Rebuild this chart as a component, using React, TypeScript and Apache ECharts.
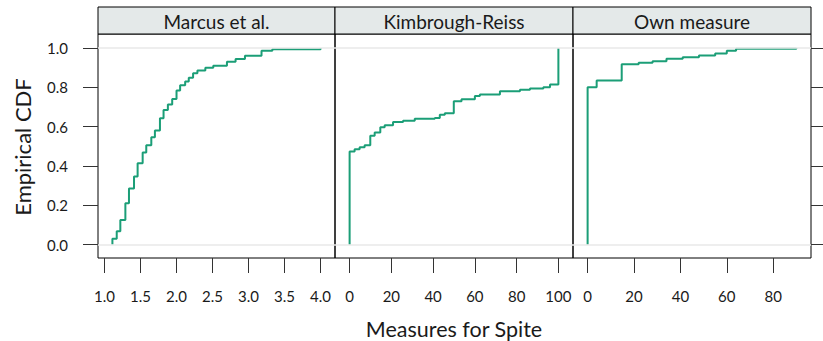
import React, { useEffect, useRef } from 'react';
import * as echarts from 'echarts';

// Empirical CDF step points
const marcusX = [1.11, 1.17, 1.22, 1.29, 1.34, 1.41, 1.46, 1.53, 1.58, 1.65, 1.70, 1.77, 1.82, 1.88, 1.94, 2.0, 2.05, 2.12, 2.17, 2.23, 2.29, 2.40, 2.51, 2.70, 2.82, 2.95, 3.18, 3.33, 4.0];
const marcusF = [0.03, 0.068, 0.125, 0.21, 0.285, 0.346, 0.414, 0.468, 0.505, 0.546, 0.58, 0.643, 0.685, 0.712, 0.74, 0.784, 0.81, 0.83, 0.848, 0.872, 0.886, 0.9, 0.91, 0.93, 0.944, 0.96, 0.986, 0.993, 1.0];

const kimX = [0, 2.4, 4.8, 7.2, 9.9, 12, 14.7, 16.8, 20.8, 25.6, 31.2, 40.8, 43.2, 45.6, 49.9, 53.6, 60, 62.4, 72, 81.6, 86.4, 92.8, 96, 100];
const kimF = [0.473, 0.485, 0.495, 0.505, 0.553, 0.57, 0.597, 0.607, 0.624, 0.63, 0.64, 0.644, 0.661, 0.668, 0.729, 0.739, 0.756, 0.763, 0.78, 0.787, 0.794, 0.8, 0.814, 1.0];

const ownX = [0, 3.9, 14.7, 22, 28, 34, 41, 48, 55, 60, 64, 90];
const ownF = [0.8, 0.834, 0.917, 0.925, 0.933, 0.945, 0.953, 0.962, 0.972, 0.986, 0.996, 1.0];

const panelTitles = ['Marcus et al.', 'Kimbrough-Reiss', 'Own measure'];
const marcusTicks = [1.0, 1.5, 2.0, 2.5, 3.0, 3.5, 4.0];
const kimTicks = [0, 20, 40, 60, 80, 100];
const ownTicks = [0, 20, 40, 60, 80];
const yTicks = [0, 0.2, 0.4, 0.6, 0.8, 1.0];
const refLines = [0, 1];

const yLabel = 'Empirical CDF';
const xLabel = 'Measures for Spite';

const FONT = 'Lato';
const GREEN = '#1b9e77';

export default function App() {
  const ref = useRef<HTMLDivElement>(null);
  useEffect(() => {
    const chart = echarts.init(ref.current!, null, { renderer: 'svg' });

    const panels = [
      { xs: marcusX, fs: marcusF, min: 0.91, max: 4.2, ticks: marcusTicks, fmt: (v: number) => v.toFixed(1) },
      { xs: kimX, fs: kimF, min: -7, max: 107, ticks: kimTicks, fmt: (v: number) => String(v) },
      { xs: ownX, fs: ownF, min: -6.3, max: 96.3, ticks: ownTicks, fmt: (v: number) => String(v) },
    ];
    const lefts = [98, 335, 573];
    const widths = [237, 238, 238];
    const top = 34;
    const height = 224;

    const grid = panels.map((_, i) => ({
      left: lefts[i], top, width: widths[i], height,
      show: true, borderColor: '#000', borderWidth: 1, backgroundColor: 'transparent',
    }));

    const xAxis = panels.map((p, i) => ({
      type: 'value', gridIndex: i, min: p.min, max: p.max, position: 'bottom',
      axisLine: { show: false, onZero: false },
      splitLine: { show: false },
      axisTick: { show: true, inside: false, length: 15, customValues: p.ticks, lineStyle: { color: '#333', width: 1 } },
      axisLabel: {
        show: true, customValues: p.ticks, margin: 30, fontSize: 15, fontFamily: FONT, color: '#1a1a1a',
        formatter: (v: number) => p.fmt(v),
      },
    }));

    const yAxis = panels.map((_, i) => ({
      type: 'value', gridIndex: i, min: -0.068, max: 1.071,
      position: i === 2 ? 'right' : 'left',
      axisLine: { show: false, onZero: false },
      splitLine: { show: false },
      axisTick: { show: i !== 1, inside: false, length: 15, customValues: yTicks, lineStyle: { color: '#333', width: 1 } },
      axisLabel: {
        show: i === 0, customValues: yTicks, margin: 30, fontSize: 15, fontFamily: FONT, color: '#1a1a1a',
        formatter: (v: number) => v.toFixed(1),
      },
    }));

    const series: any[] = [];
    panels.forEach((p, i) => {
      series.push({
        type: 'line', xAxisIndex: i, yAxisIndex: i, data: [], z: 1, silent: true,
        markLine: {
          silent: true, symbol: ['none', 'none'], label: { show: false },
          lineStyle: { color: '#e8e8e8', width: 1.5, type: 'solid' },
          data: refLines.map((v) => ({ yAxis: v })),
        },
      });
      const data: number[][] = [[p.xs[0], 0]];
      p.xs.forEach((x, k) => data.push([x, p.fs[k]]));
      series.push({
        type: 'line', xAxisIndex: i, yAxisIndex: i, data, step: 'end', z: 3,
        showSymbol: false, symbol: 'none',
        lineStyle: { color: GREEN, width: 2 },
      });
    });

    const graphic: any[] = [];
    panelTitles.forEach((t, i) => {
      graphic.push({
        type: 'rect', shape: { x: lefts[i], y: 7, width: widths[i], height: 27 },
        style: { fill: '#e4e9e9', stroke: '#000', lineWidth: 1 }, z: 10,
      });
      graphic.push({
        type: 'text', x: lefts[i] + widths[i] / 2, y: 21, z: 11,
        style: { text: t, fontSize: 19, fontFamily: FONT, fill: '#1a1a1a', textAlign: 'center', textVerticalAlign: 'middle' },
      });
    });
    graphic.push({
      type: 'text', x: 22, y: 147, rotation: Math.PI / 2,
      style: { text: yLabel, fontSize: 22, fontFamily: FONT, fill: '#1a1a1a', textAlign: 'center', textVerticalAlign: 'middle' },
    });
    graphic.push({
      type: 'text', x: 454, y: 329,
      style: { text: xLabel, fontSize: 21.5, fontFamily: FONT, fill: '#1a1a1a', textAlign: 'center', textVerticalAlign: 'middle' },
    });

    chart.setOption({ animation: false, grid, xAxis, yAxis, series, graphic });
    return () => chart.dispose();
  }, []);
  return <div ref={ref} style={{ position: 'absolute', left: 0, top: 0, width: 823, height: 341 }} />;
}
